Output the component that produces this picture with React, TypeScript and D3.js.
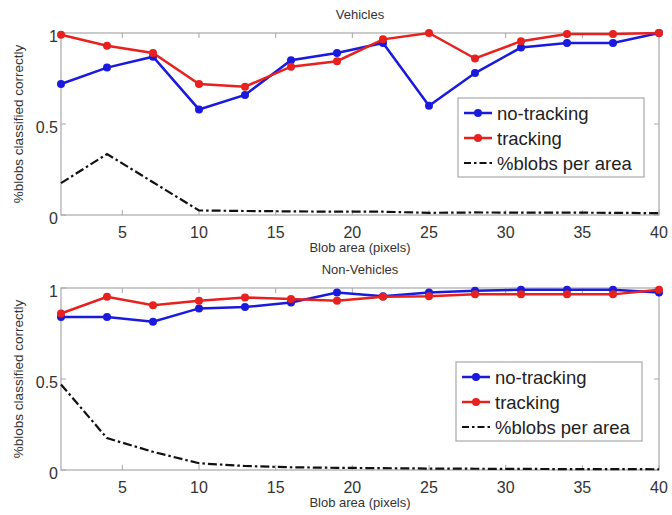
import React from "react";
import * as d3 from "d3";

const areas = [1, 4, 7, 10, 13, 16, 19, 22, 25, 28, 31, 34, 37, 40];
const vehNoTracking = [0.72, 0.81, 0.87, 0.58, 0.66, 0.85, 0.89, 0.945, 0.6, 0.78, 0.92, 0.945, 0.945, 1.0];
const vehTracking = [0.99, 0.93, 0.89, 0.72, 0.705, 0.815, 0.845, 0.965, 1.0, 0.86, 0.955, 0.995, 0.995, 1.0];
const vehBlobs = [0.175, 0.335, 0.18, 0.025, 0.022, 0.02, 0.018, 0.018, 0.012, 0.014, 0.013, 0.013, 0.012, 0.01];
const nonNoTracking = [0.84, 0.84, 0.815, 0.888, 0.895, 0.92, 0.975, 0.955, 0.975, 0.985, 0.99, 0.99, 0.99, 0.975];
const nonTracking = [0.86, 0.952, 0.905, 0.93, 0.948, 0.94, 0.93, 0.952, 0.955, 0.965, 0.965, 0.965, 0.965, 0.99];
const nonBlobs = [0.47, 0.175, 0.1, 0.037, 0.022, 0.015, 0.012, 0.01, 0.008, 0.007, 0.006, 0.005, 0.005, 0.004];
const xTicks = [5, 10, 15, 20, 25, 30, 35, 40];
const yTicks = [0, 0.5, 1];
const yTickLabels = ["0", "0.5", "1"];
const legendLabels = ["no-tracking", "tracking", "%blobs per area"];

const FONT = "'Liberation Sans', Arial, Helvetica, sans-serif";
const BLUE = "#1a1adf";
const RED = "#e8201e";
const DASH = "9,3,2.5,3";

type PanelProps = {
  top: number;
  title: string;
  noTr: number[];
  tr: number[];
  blobs: number[];
  legendX: number;
  legendY: number;
};

function Panel({ top, title, noTr, tr, blobs, legendX, legendY }: PanelProps) {
  const left = 61;
  const right = 659;
  const h = 182;
  const x = d3.scaleLinear().domain([1, 40]).range([left, right]);
  const y = d3.scaleLinear().domain([0, 1]).range([top + h, top]);
  const line = d3
    .line<number>()
    .x((_, i) => x(areas[i]))
    .y((d) => y(d));
  const frame = "#a8a8a8";
  const series = [
    { vals: noTr, color: BLUE },
    { vals: tr, color: RED },
  ];
  return (
    <g>
      <rect x={left} y={top} width={right - left} height={h} fill="white" stroke={frame} strokeWidth={1.2} />
      {xTicks.map((t) => (
        <g key={"x" + t}>
          <line x1={x(t)} x2={x(t)} y1={top + h} y2={top + h - 5} stroke={frame} />
          <line x1={x(t)} x2={x(t)} y1={top} y2={top + 5} stroke={frame} />
          <text
            x={x(t)}
            y={top + h + 23}
            textAnchor="middle"
            fontSize={16}
            fontFamily={FONT}
            fill="#333"
          >
            {t}
          </text>
        </g>
      ))}
      {yTicks.map((t, i) => (
        <g key={"y" + t}>
          <line x1={left} x2={left + 5} y1={y(t)} y2={y(t)} stroke={frame} />
          <line x1={right} x2={right - 5} y1={y(t)} y2={y(t)} stroke={frame} />
          <text
            x={left - 3}
            y={y(t) + 9}
            textAnchor="end"
            fontSize={16}
            fontFamily={FONT}
            fill="#333"
          >
            {yTickLabels[i]}
          </text>
        </g>
      ))}
      <text x={360} y={top - 14} textAnchor="middle" fontSize={13} fontFamily={FONT} fill="#333">
        {title}
      </text>
      <text x={360} y={top + h + 37} textAnchor="middle" fontSize={13} fontFamily={FONT} fill="#333">
        Blob area (pixels)
      </text>
      <text
        transform={`translate(23,${top + h / 2}) rotate(-90)`}
        textAnchor="middle"
        fontSize={13.5}
        fontFamily={FONT}
        fill="#333"
      >
        %blobs classified correctly
      </text>
      <path d={line(blobs) || ""} fill="none" stroke="#111" strokeWidth={2.2} strokeDasharray={DASH} />
      {series.map((s, si) => (
        <g key={"s" + si}>
          <path d={line(s.vals) || ""} fill="none" stroke={s.color} strokeWidth={2.5} />
          {s.vals.map((v, i) => (
            <circle key={i} cx={x(areas[i])} cy={y(v)} r={4} fill={s.color} />
          ))}
        </g>
      ))}
      <g transform={`translate(${legendX},${legendY})`}>
        <rect x={0} y={0} width={186} height={79} fill="white" stroke={frame} strokeWidth={1.2} />
        {legendLabels.map((lab, i) => {
          const ly = 15 + i * 25;
          const color = i === 0 ? BLUE : i === 1 ? RED : "#111";
          return (
            <g key={lab}>
              <line
                x1={6}
                x2={34}
                y1={ly}
                y2={ly}
                stroke={color}
                strokeWidth={i === 2 ? 2.2 : 2.5}
                strokeDasharray={i === 2 ? "7,3,2.5,3" : undefined}
              />
              {i < 2 && <circle cx={20} cy={ly} r={4} fill={color} />}
              <text x={39} y={ly + 6.5} fontSize={18.5} fontFamily={FONT} fill="#222">
                {lab}
              </text>
            </g>
          );
        })}
      </g>
    </g>
  );
}

export default function App() {
  return (
    <svg width={672} height={515} style={{ position: "absolute", left: 0, top: 0, background: "white" }}>
      <rect x={0} y={0} width={672} height={515} fill="white" />
      <Panel
        top={33}
        title="Vehicles"
        noTr={vehNoTracking}
        tr={vehTracking}
        blobs={vehBlobs}
        legendX={458}
        legendY={98}
      />
      <Panel
        top={288}
        title="Non-Vehicles"
        noTr={nonNoTracking}
        tr={nonTracking}
        blobs={nonBlobs}
        legendX={456}
        legendY={362}
      />
    </svg>
  );
}
